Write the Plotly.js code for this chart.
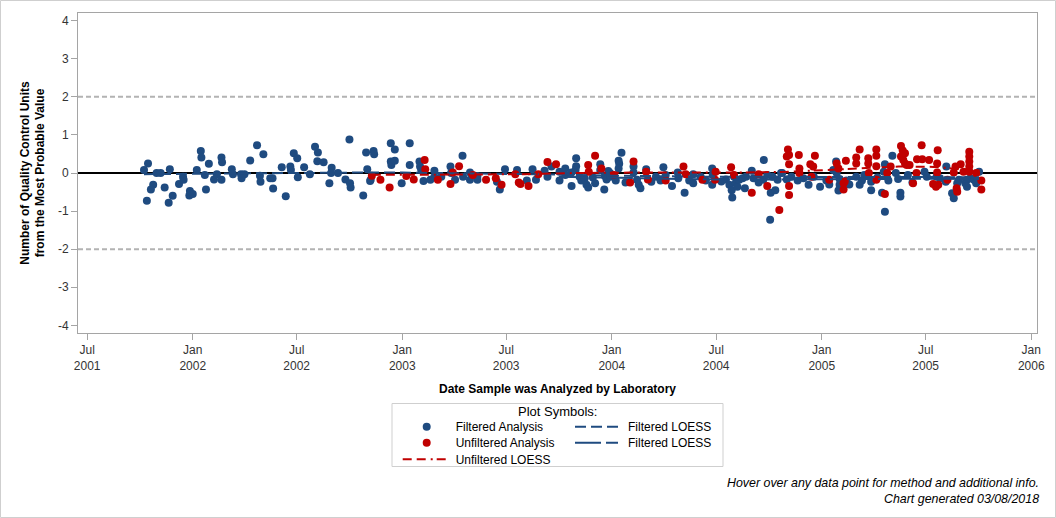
<!DOCTYPE html>
<html>
<head>
<meta charset="utf-8">
<script src="https://cdn.plot.ly/plotly-3.0.1.min.js"></script>
<style>
  html, body { margin: 0; padding: 0; background: #fff; }
  #chart { width: 1056px; height: 518px; }
</style>
</head>
<body>
<div id="chart"></div>
<script>
// ---------------- DATA ----------------
const filteredDates = [
  '2001-10-08','2001-10-15','2001-10-13','2001-10-24','2001-10-20','2001-10-30','2001-11-06','2001-11-13','2001-11-20','2001-11-22',
  '2001-11-27','2001-12-08','2001-12-15','2001-12-16','2001-12-27','2001-12-26','2002-01-01','2002-01-08','2002-01-15','2002-01-16',
  '2002-01-22','2002-01-24','2002-01-29','2002-02-07','2002-02-12','2002-02-20','2002-02-21','2002-02-20','2002-03-10','2002-03-12',
  '2002-03-26','2002-03-27','2002-04-01','2002-04-11','2002-04-23','2002-04-28','2002-04-29','2002-05-04','2002-05-16','2002-05-20',
  '2002-05-21','2002-06-05','2002-06-12','2002-06-20','2002-06-21','2002-06-26','2002-07-02','2002-07-03','2002-07-14','2002-07-24',
  '2002-08-02','2002-08-07','2002-08-06','2002-08-17','2002-08-27','2002-08-31','2002-08-30','2002-09-11','2002-09-24','2002-10-01',
  '2002-10-02','2002-10-03','2002-10-25','2002-10-30','2002-11-01','2002-11-06','2002-11-12','2002-11-13','2002-11-07','2002-12-12',
  '2002-12-19','2002-12-12','2002-12-13','2002-12-19','2003-01-14','2003-01-14','2002-12-31','2003-01-31','2003-02-01','2003-02-03',
  '2003-02-07','2003-02-19','2003-02-26','2003-02-26','2003-03-10','2003-03-26','2003-03-27','2003-04-03','2003-04-16','2003-04-17',
  '2003-04-29','2003-04-29','2003-05-12','2003-05-12','2003-06-15','2003-06-20','2003-06-29','2003-07-20','2003-08-06','2003-08-16',
  '2003-08-22','2003-09-06','2003-09-11','2003-09-18','2003-10-02','2003-10-02','2003-10-12','2003-10-12','2003-10-23','2003-10-23',
  '2003-10-31','2003-10-31','2003-10-30','2003-11-06','2003-11-09','2003-11-15','2003-11-18','2003-11-21','2003-11-29','2003-12-03',
  '2003-12-12','2003-12-12','2003-12-20','2003-12-19','2003-12-26','2004-01-18','2004-01-13','2004-01-14','2004-01-13','2003-12-29',
  '2003-12-23','2003-12-29','2004-01-05','2004-02-08','2004-02-08','2004-02-14','2004-02-17','2004-02-20','2004-03-01','2004-03-10',
  '2004-03-31','2004-04-15','2004-04-26','2004-04-25','2004-05-07','2004-05-15','2004-05-22','2004-05-22','2004-06-24','2004-06-25',
  '2004-06-24','2004-07-18','2004-07-24','2004-07-28','2004-07-29','2004-08-01','2004-08-04','2004-08-07','2004-08-10','2004-08-16',
  '2004-08-20','2004-09-01','2004-09-04','2004-09-22','2004-09-21','2004-09-28','2004-10-04','2004-10-12','2004-10-03','2004-10-07',
  '2004-10-16','2004-10-22','2004-10-24','2004-11-01','2004-11-09','2004-11-30','2004-12-09','2004-12-29','2005-01-26','2005-01-21',
  '2005-01-27','2005-01-30','2005-02-01','2005-02-01','2005-03-08','2005-03-02','2005-03-28','2005-03-28','2005-04-21','2005-04-19',
  '2005-04-21','2005-04-16','2005-05-04','2005-05-10','2005-05-14','2005-05-18','2005-05-18','2005-06-29','2005-07-03','2005-07-20',
  '2005-07-26','2005-08-05','2005-08-06','2005-08-16','2005-08-19','2005-08-25','2005-08-28','2005-09-08','2005-09-11','2005-09-11',
  '2005-09-17','2005-09-23','2005-09-27','2005-10-02','2005-02-13','2005-02-18','2005-03-12','2005-03-16','2005-04-08','2005-04-27',
  '2005-05-31','2005-06-08','2004-07-10','2004-08-22','2004-09-13','2004-11-20','2004-12-18','2005-01-09','2005-01-14','2004-01-08',
  '2004-01-25','2004-03-18','2004-03-26','2004-04-04','2004-06-04','2004-06-13'
];
const filteredValues = [
  0.08,0.25,-0.73,-0.31,-0.43,0.0,0.0,-0.38,-0.78,0.1,
  -0.6,-0.29,-0.1,-0.18,-0.47,-0.59,-0.55,0.08,0.58,0.41,
  -0.05,-0.43,0.24,-0.17,-0.03,0.41,0.28,-0.18,0.1,-0.03,
  -0.03,-0.14,-0.03,0.33,0.73,-0.07,-0.23,0.49,-0.14,-0.14,
  -0.41,0.15,-0.61,0.17,0.08,0.52,0.39,-0.11,0.15,-0.03,
  0.69,0.54,0.31,0.28,-0.27,0.14,0.0,0.0,-0.17,0.88,
  -0.27,-0.38,-0.59,0.54,0.1,-0.21,0.58,0.49,-0.18,0.78,
  0.62,0.3,0.21,0.32,0.78,0.21,-0.27,0.3,0.17,0.08,
  -0.21,-0.18,0.06,-0.1,-0.1,0.17,0.0,-0.18,0.45,-0.1,
  0.01,-0.18,-0.18,-0.08,-0.23,-0.43,0.1,0.08,-0.2,0.1,
  -0.18,0.06,-0.1,0.17,0.03,-0.2,0.12,-0.05,0.01,-0.34,
  0.39,0.18,0.08,-0.1,-0.2,-0.14,-0.31,-0.38,-0.12,-0.27,
  0.23,0.08,-0.08,-0.43,0.05,0.53,0.32,0.24,0.12,0.0,
  -0.17,-0.1,-0.1,0.17,0.01,-0.18,-0.31,-0.4,0.1,-0.23,
  0.15,-0.34,-0.14,0.01,-0.52,-0.2,-0.03,-0.27,0.12,-0.05,
  -0.31,-0.17,-0.31,-0.45,-0.64,-0.1,-0.27,-0.36,-0.18,-0.14,
  -0.4,0.06,-0.14,0.34,-0.18,-0.05,-0.52,-0.45,-1.23,-0.1,
  -0.18,0.0,0.0,-0.17,-0.1,-0.14,-0.31,-0.36,0.3,0.08,
  0.0,-0.46,-0.31,-0.16,-0.31,-0.1,-0.23,-0.45,0.23,0.03,
  -1.02,-0.52,0.45,0.0,-0.16,-0.52,-0.62,0.03,-0.1,-0.1,
  -0.14,-0.23,0.17,-0.53,-0.66,-0.27,-0.18,-0.27,-0.18,-0.36,
  -0.14,-0.18,-0.27,0.03,-0.2,-0.3,-0.2,-0.05,-0.12,-0.2,
  -0.05,-0.25,-0.22,-0.1,-0.25,-0.2,-0.1,-0.2,-0.3,-0.2,
  -0.25,-0.1,-0.2,-0.05,-0.1,-0.2
];

const unfilteredDates = [
  '2002-11-09','2002-11-24','2002-12-10','2003-01-08','2003-01-21','2003-02-09','2003-02-10','2003-03-04','2003-03-26','2003-03-30',
  '2003-04-10','2003-05-04','2003-05-27','2003-06-13','2003-06-23','2003-07-17','2003-07-23','2003-07-26','2003-08-09','2003-08-26',
  '2003-09-11','2003-09-26','2003-11-21','2003-11-22','2003-12-03','2003-12-14','2004-01-05','2004-02-08','2004-02-02','2004-03-01',
  '2004-03-04','2004-04-04','2004-05-05','2004-05-09','2004-06-07','2004-06-29','2004-06-30','2004-07-27','2004-08-01','2004-09-01',
  '2004-09-13','2004-09-28','2004-10-19','2004-11-03','2004-11-05','2004-11-01','2004-11-05','2004-11-05','2004-11-05','2004-11-22',
  '2004-11-23','2004-11-23','2004-12-12','2004-12-20','2004-12-17','2004-12-14','2005-01-14','2005-01-27','2005-01-30','2005-02-08',
  '2005-02-08','2005-02-12','2005-02-10','2005-03-02','2005-03-02','2005-03-08','2005-03-23','2005-03-23','2005-03-24','2005-04-06',
  '2005-04-06','2005-04-06','2005-04-06','2005-04-21','2005-04-25','2005-05-01','2005-05-19','2005-05-22','2005-05-19','2005-05-26',
  '2005-05-23','2005-05-26','2005-05-29','2005-06-03','2005-06-09','2005-06-16','2005-06-25','2005-06-24','2005-06-15','2005-07-07',
  '2005-07-14','2005-07-19','2005-07-23','2005-07-22','2005-07-21','2005-07-21','2005-08-08','2005-08-22','2005-08-19','2005-08-24',
  '2005-08-25','2005-08-31','2005-09-05','2005-09-15','2005-09-15','2005-09-15','2005-09-15','2005-09-15','2005-10-06','2005-10-06',
  '2005-09-27'
];
const unfilteredValues = [
  -0.07,-0.18,-0.38,-0.08,-0.17,0.34,0.1,-0.18,-0.29,0.01,
  0.18,-0.05,-0.18,-0.14,-0.31,-0.03,-0.25,-0.29,-0.34,-0.03,
  0.29,0.23,0.21,0.03,0.45,0.12,-0.05,0.3,-0.25,0.03,
  -0.17,-0.2,0.17,-0.03,-0.18,-0.18,0.03,0.15,-0.05,-0.52,
  -0.03,-0.34,-0.97,0.62,0.47,0.43,0.23,-0.34,-0.58,0.47,
  0.12,0.0,0.23,0.45,0.17,-0.1,-0.18,0.25,0.12,-0.27,
  -0.43,0.32,-0.22,0.41,0.25,0.62,0.39,0.25,0.0,0.62,
  0.45,0.18,-0.18,-0.55,0.0,0.17,0.71,0.59,0.43,0.52,
  0.34,0.25,0.21,0.21,-0.27,0.36,0.36,0.73,0.0,0.34,
  -0.29,-0.36,-0.31,0.6,0.25,0.01,-0.18,0.17,0.01,-0.4,
  -0.49,0.23,0.03,0.56,0.43,0.3,0.17,0.03,-0.2,-0.43,
  0.0
];

const filteredLoessADates = ['2001-10-08','2002-01-01','2002-04-01','2002-07-01','2002-10-01','2003-01-01','2003-04-01','2003-07-01','2003-10-01','2004-01-01','2004-04-01','2004-07-01','2004-10-01','2005-01-01','2005-04-01','2005-07-01','2005-10-02'];
const filteredLoessAValues = [-0.03,-0.02,0.0,0.01,0.01,0.01,0.0,-0.02,-0.04,-0.07,-0.09,-0.1,-0.1,-0.1,-0.1,-0.1,-0.11];

const filteredLoessBDates = ['2003-10-01','2004-01-01','2004-04-01','2004-07-01','2004-10-01','2005-01-01','2005-04-01','2005-07-01','2005-10-02'];
const filteredLoessBValues = [-0.1,-0.13,-0.15,-0.17,-0.17,-0.16,-0.15,-0.15,-0.16];

const unfilteredLoessDates = ['2002-11-09','2003-02-01','2003-05-01','2003-08-01','2003-11-01','2004-02-01','2004-05-01','2004-08-01','2004-11-01','2005-01-15','2005-03-15','2005-05-15','2005-07-15','2005-09-01','2005-10-06'];
const unfilteredLoessValues = [-0.05,-0.05,-0.04,-0.03,0.0,0.01,0.01,0.01,0.03,0.08,0.13,0.17,0.16,0.1,0.06];

const xTickStart = '2001-07-01';
const xRange = ['2001-06-15','2006-01-11'];
const yRange = [-4.2, 4.2];
const yTickValues = [-4, -3, -2, -1, 0, 1, 2, 3, 4];
const yTickLabels = ['-4', '-3', '-2', '-1', '0', '1', '2', '3', '4'];
const limitLines = [-2, 2];

// ---------------- STYLE ----------------
const BLUE = '#1f4b80';
const RED = '#c00000';
const FONT = '"Liberation Sans", Arial, Helvetica, sans-serif';

const traces = [
  {x: filteredDates, y: filteredValues, type: 'scatter', mode: 'markers', name: 'Filtered Analysis',
   marker: {color: BLUE, size: 8}, legend: 'legend'},
  {x: unfilteredDates, y: unfilteredValues, type: 'scatter', mode: 'markers', name: 'Unfiltered Analysis',
   marker: {color: RED, size: 8}, legend: 'legend3'},
  {x: filteredLoessADates, y: filteredLoessAValues, type: 'scatter', mode: 'lines', name: 'Filtered LOESS',
   line: {color: BLUE, width: 2, dash: '11px,5px'}, legend: 'legend2'},
  {x: filteredLoessBDates, y: filteredLoessBValues, type: 'scatter', mode: 'lines', name: 'Filtered LOESS',
   line: {color: BLUE, width: 2, dash: '26px,5px,12px,5px'}, legend: 'legend4'},
  {x: unfilteredLoessDates, y: unfilteredLoessValues, type: 'scatter', mode: 'lines', name: 'Unfiltered LOESS',
   line: {color: RED, width: 2, dash: '9px,5px,9px,5px,2px,4px'}, legend: 'legend5'}
];

// plot area in pixels: left 78, right 1037, top 13, bottom 333
const PL = 78, PR = 1037, PT = 13, PB = 333;
const PW = PR - PL, PH = PB - PT;
const px = v => (v - PL) / PW;
const py = v => (PB - v) / PH;

function leg(xPix, yPix) {
  return {x: px(xPix), y: py(yPix), xanchor: 'left', yanchor: 'middle',
          bgcolor: 'rgba(0,0,0,0)', borderwidth: 0, itemwidth: 48,
          font: {family: FONT, size: 12, color: '#000'}, orientation: 'v'};
}

const layout = {
  width: 1056, height: 518,
  margin: {l: PL, r: 1056 - PR, t: PT, b: 518 - PB, pad: 0},
  paper_bgcolor: '#fff', plot_bgcolor: '#fff',
  font: {family: FONT, size: 12, color: '#333'},
  showlegend: true,
  xaxis: {
    type: 'date', range: xRange, tick0: xTickStart, dtick: 'M6', tickformat: '%b<br>%Y',
    ticks: 'outside', ticklen: 6, tickcolor: '#a5a5a5', tickfont: {size: 12, color: '#333'},
    showline: true, mirror: true, linecolor: '#a5a5a5', linewidth: 1,
    showgrid: false, zeroline: false, automargin: false,
    title: {text: '<b>Date Sample was Analyzed by Laboratory</b>', font: {size: 12, color: '#000'}, standoff: 12}
  },
  yaxis: {
    range: yRange, tickmode: 'array', tickvals: yTickValues, ticktext: yTickLabels,
    ticks: 'outside', ticklen: 6, tickcolor: '#a5a5a5', tickfont: {size: 12, color: '#333'},
    showline: true, mirror: true, linecolor: '#a5a5a5', linewidth: 1,
    showgrid: false, zeroline: false, automargin: false,
    title: {text: '<b>Number of Quality Control Units<br>from the Most Probable Value</b>', font: {size: 12, color: '#000'}, standoff: 10}
  },
  legend: leg(397.7, 426.7),
  legend2: leg(570, 426.7),
  legend3: leg(397.7, 442.7),
  legend4: leg(570, 442.7),
  legend5: leg(397.7, 459.3),
  shapes: [
    {type: 'rect', xref: 'paper', yref: 'paper', x0: px(0.5), x1: px(1055.5), y0: py(517.5), y1: py(0.5),
     line: {color: '#cfcfcf', width: 1}, fillcolor: 'rgba(0,0,0,0)', layer: 'below'},
    {type: 'rect', xref: 'paper', yref: 'paper', x0: px(392), x1: px(723), y0: py(466.5), y1: py(403.5),
     line: {color: '#cfcfcf', width: 1}, fillcolor: 'rgba(0,0,0,0)', layer: 'below'},
    {type: 'line', xref: 'paper', yref: 'y', x0: 0, x1: 1, y0: 0, y1: 0,
     line: {color: '#000', width: 2}, layer: 'below'}
  ].concat(limitLines.map(v => ({type: 'line', xref: 'paper', yref: 'y', x0: 0, x1: 1, y0: v, y1: v,
     line: {color: '#b3b3b3', width: 2, dash: '5px,3px'}, layer: 'below'}))),
  annotations: [
    {xref: 'paper', yref: 'paper', x: px(557.5), y: py(411.7), xanchor: 'center', yanchor: 'middle',
     text: 'Plot Symbols:', showarrow: false, font: {family: FONT, size: 13, color: '#000'}},
    {xref: 'paper', yref: 'paper', x: px(1041), y: py(491.3), xanchor: 'right', yanchor: 'middle', align: 'right',
     text: '<i>Hover over any data point for method and additional info.</i><br><i>Chart generated 03/08/2018</i>',
     showarrow: false, font: {family: FONT, size: 12.4, color: '#000'}}
  ]
};

Plotly.newPlot('chart', traces, layout, {displayModeBar: false, responsive: false});
</script>
</body>
</html>
